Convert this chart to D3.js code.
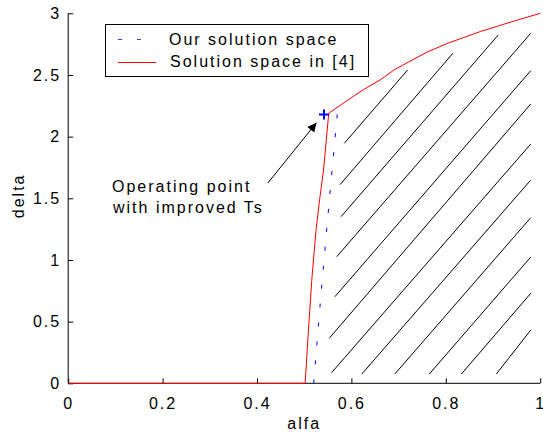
<!DOCTYPE html>
<html>
<head>
<meta charset="utf-8">
<script src="https://cdn.jsdelivr.net/npm/d3@7"></script>
<style>
  body { margin: 0; background: #fff; }
  text { font-family: "Liberation Sans", Arial, Helvetica, sans-serif; font-size: 16px; letter-spacing: 2px; fill: #000; }
</style>
</head>
<body>
<svg id="chart" width="543" height="435"></svg>
<script>
// boundary (alfa, delta)
var redAlfa  = [0, 0.5, 0.502, 0.509, 0.516, 0.525, 0.533, 0.541, 0.552, 0.59, 0.625, 0.661, 0.69, 0.721, 0.76, 0.802, 0.873, 0.943, 1.0];
var redDelta = [0, 0, 0, 0.43, 0.835, 1.24, 1.5, 1.73, 2.19, 2.29, 2.38, 2.46, 2.54, 2.605, 2.685, 2.754, 2.852, 2.935, 3.0];

var blueAlfa  = [0.52, 0.536, 0.554, 0.57];
var blueDelta = [0, 0.74, 1.52, 2.18];

// hatch segments, start and end points
var hatchStart = [[0.585,1.946],[0.576,1.611],[0.578,1.351],[0.569,1.027],[0.565,0.702],[0.553,0.365],
                  [0.558,0.086],[0.622,0.075],[0.692,0.075],[0.765,0.075],[0.833,0.075],[0.907,0.075]];
var hatchEnd   = [[0.719,2.540],[0.815,2.676],[0.911,2.824],[0.980,2.838],[0.980,2.535],[0.980,2.265],
                  [0.980,1.940],[0.980,1.648],[0.980,1.343],[0.980,1.024],[0.980,0.730],[0.980,0.432]];

var opPoint = [0.542, 2.18];
var arrowTail = [0.423, 1.624], arrowTip = [0.526, 2.113];

var xTicks = [0, 0.2, 0.4, 0.6, 0.8, 1];
var yTicks = [0, 0.5, 1, 1.5, 2, 2.5, 3];

var svg = d3.select("#chart");
var padL = 68.2, padT = 13.3, w = 472, h = 370;

var x = d3.scaleLinear().domain([0, 1]).range([padL, padL + w]);
var y = d3.scaleLinear().domain([0, 3]).range([padT + h, padT]);

// axes, ticks pointing inwards like matlab
var xAxis = d3.axisBottom(x).tickValues(xTicks).tickSize(-5).tickPadding(11)
  .tickFormat(function(d){ return d3.format("")(d); });
var yAxis = d3.axisLeft(y).tickValues(yTicks).tickSize(-5).tickPadding(7)
  .tickFormat(function(d){ return d3.format("")(d); });

var gx = svg.append("g").attr("transform", "translate(0," + (padT + h) + ")").call(xAxis);
var gy = svg.append("g").attr("transform", "translate(" + padL + ",0)").call(yAxis);
[gx, gy].forEach(function(g){
  g.attr("font-size", null).attr("font-family", null);
  g.selectAll("text").attr("fill", "#000");
  g.selectAll("line,path").attr("stroke", "#000");
});
gx.select(".domain").attr("d", "M" + padL + ",0H" + (padL + w));
gy.select(".domain").attr("d", "M0," + (padT + h) + "V" + padT);
gy.selectAll("text").attr("dy", "0.33em");
gx.selectAll("text").attr("dy", "0.95em");

svg.append("text").attr("x", x(0.5)).attr("y", 429).attr("text-anchor", "middle").text("alfa");
svg.append("text").attr("transform", "translate(23.5," + y(1.52) + ") rotate(-90)")
  .attr("text-anchor", "middle").text("delta");

// hatching
svg.append("g").selectAll("line").data(hatchStart).join("line")
  .attr("x1", function(d){ return x(d[0]); })
  .attr("y1", function(d){ return y(d[1]); })
  .attr("x2", function(d, i){ return x(hatchEnd[i][0]); })
  .attr("y2", function(d, i){ return y(hatchEnd[i][1]); })
  .attr("stroke", "#000").attr("stroke-width", 1);

var line = d3.line().x(function(d){ return x(d[0]); }).y(function(d){ return y(d[1]); });

svg.append("path")
  .datum(blueAlfa.map(function(a, i){ return [a, blueDelta[i]]; }))
  .attr("d", line).attr("fill", "none").attr("stroke", "#0000ff")
  .attr("stroke-width", 1).attr("stroke-dasharray", "4,15");

svg.append("path")
  .datum(redAlfa.map(function(a, i){ return [a, redDelta[i]]; }))
  .attr("d", line).attr("fill", "none").attr("stroke", "#ff0000").attr("stroke-width", 1);

// operating point marker
var px = x(opPoint[0]), py = y(opPoint[1]);
svg.append("path")
  .attr("d", "M" + (px - 5) + "," + py + "H" + (px + 5) + "M" + px + "," + (py - 5) + "V" + (py + 5))
  .attr("stroke", "#0000ff").attr("stroke-width", 2);

// arrow annotation
svg.append("defs").append("marker")
  .attr("id", "head").attr("viewBox", "0 0 10 10").attr("refX", 10).attr("refY", 5)
  .attr("markerWidth", 11).attr("markerHeight", 9).attr("markerUnits", "userSpaceOnUse")
  .attr("orient", "auto")
  .append("path").attr("d", "M0,0L10,5L0,10Z").attr("fill", "#000");

svg.append("line")
  .attr("x1", x(arrowTail[0])).attr("y1", y(arrowTail[1]))
  .attr("x2", x(arrowTip[0])).attr("y2", y(arrowTip[1]))
  .attr("stroke", "#000").attr("stroke-width", 1).attr("marker-end", "url(#head)");

svg.append("text").attr("x", 112).attr("y", 192).text("Operating point");
svg.append("text").attr("x", 113).attr("y", 213).text("with improved Ts");

// legend
var lg = svg.append("g");
lg.append("rect").attr("x", 105.5).attr("y", 24.5).attr("width", 263).attr("height", 52)
  .attr("fill", "#fff").attr("stroke", "#000").attr("stroke-width", 1);
lg.append("line").attr("x1", 118).attr("x2", 156).attr("y1", 39.5).attr("y2", 39.5)
  .attr("stroke", "#3a3aff").attr("stroke-dasharray", "4,15");
lg.append("line").attr("x1", 118).attr("x2", 156).attr("y1", 62.5).attr("y2", 62.5)
  .attr("stroke", "#ff0000");
lg.append("text").attr("x", 169).attr("y", 45).text("Our solution space");
lg.append("text").attr("x", 170).attr("y", 67).text("Solution space in [4]");
</script>
</body>
</html>
